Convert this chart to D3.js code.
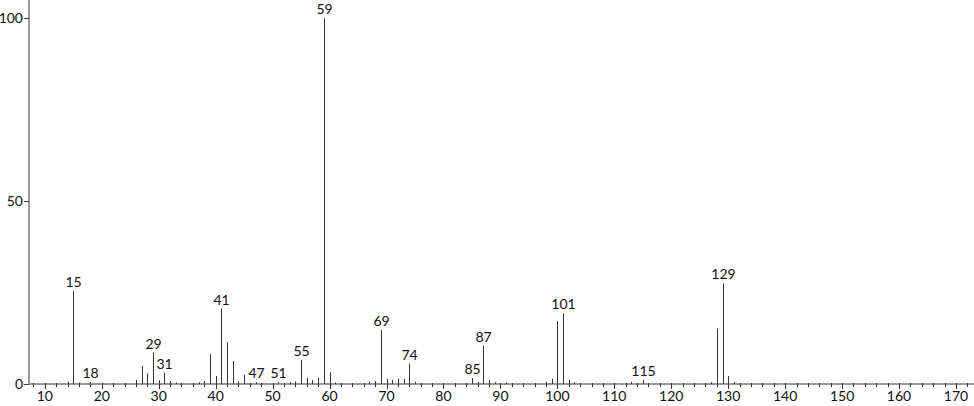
<!DOCTYPE html>
<html>
<head>
<meta charset="utf-8">
<script src="https://cdn.jsdelivr.net/npm/d3@7"></script>
<style>
  body { margin: 0; background: #fff; }
  text { font-family: "Lato", "DejaVu Sans", sans-serif; font-size: 14px; fill: #111; }
</style>
</head>
<body>
<div id="chart"></div>
<script>
// m/z and relative abundance
var mz =        [14, 15, 16, 18, 26, 27, 28, 29, 30, 31, 32, 33, 37, 38, 39, 40, 41, 42, 43, 44, 45, 47, 51, 53, 54, 55, 56, 57, 58, 59, 60, 61, 67, 68, 69, 70, 71, 72, 73, 74, 75, 85, 86, 87, 88, 89, 91, 98, 99, 100, 101, 102, 103, 113, 115, 127, 128, 129, 130, 131];
var abundance = [0.6, 25.4, 0.4, 0.5, 1.1, 4.9, 2.9, 8.6, 1.0, 3.1, 0.8, 0.4, 0.5, 0.8, 8.2, 2.2, 20.6, 11.4, 6.3, 0.8, 2.5, 0.5, 0.5, 0.5, 0.7, 6.6, 1.7, 1.1, 1.7, 100, 3.2, 0.4, 0.6, 0.8, 14.8, 1.4, 1.1, 1.5, 1.4, 5.6, 0.6, 1.6, 0.6, 10.5, 1.1, 0.5, 0.4, 0.6, 1.4, 17.2, 19.3, 1.1, 0.5, 0.6, 1.1, 0.5, 15.2, 27.5, 2.2, 0.6];
var labelled =  [15, 18, 29, 31, 41, 47, 51, 55, 59, 69, 74, 85, 87, 101, 115, 129];
var xTicks = [10, 20, 30, 40, 50, 60, 70, 80, 90, 100, 110, 120, 130, 140, 150, 160, 170];
var yTicks = [0, 50, 100];

var width = 974, height = 406;
var x0 = 29, y0 = 384;

var x = d3.scaleLinear().domain([10, 170]).range([44.8, 956]);
var y = d3.scaleLinear().domain([0, 100]).range([y0, 18.3]);

var data = mz.map(function(m, i) { return {mz: m, v: abundance[i]}; });

var svg = d3.select("#chart").append("svg")
  .attr("width", width)
  .attr("height", height);

// bars
svg.selectAll(".peak")
  .data(data)
.enter().append("line")
  .attr("class", "peak")
  .attr("x1", function(d) { return Math.round(x(d.mz)) + 0.5; })
  .attr("x2", function(d) { return Math.round(x(d.mz)) + 0.5; })
  .attr("y1", y0)
  .attr("y2", function(d) { return y(d.v); })
  .attr("stroke", "#333")
  .attr("stroke-width", 1);

// peak labels
svg.selectAll(".peakLabel")
  .data(data.filter(function(d) { return labelled.indexOf(d.mz) >= 0; }))
.enter().append("text")
  .attr("class", "peakLabel")
  .attr("x", function(d) { return Math.round(x(d.mz)) + 0.5; })
  .attr("y", function(d) { return y(d.v) - 4; })
  .attr("text-anchor", "middle")
  .text(function(d) { return d.mz; });

// x axis: line, minor ticks every 2, major every 10
var xAxis = svg.append("g").attr("transform", "translate(0," + y0 + ")");
xAxis.append("line")
  .attr("x1", x0).attr("x2", width)
  .attr("stroke", "#333");

var minor = d3.range(8, 174, 2).filter(function(v) { return v % 10 !== 0; });
xAxis.selectAll(".minor")
  .data(minor)
.enter().append("line")
  .attr("x1", function(d) { return Math.round(x(d)) + 0.5; })
  .attr("x2", function(d) { return Math.round(x(d)) + 0.5; })
  .attr("y1", -1).attr("y2", 3)
  .attr("stroke", "#333");

xAxis.selectAll(".major")
  .data(xTicks)
.enter().append("line")
  .attr("x1", function(d) { return Math.round(x(d)) + 0.5; })
  .attr("x2", function(d) { return Math.round(x(d)) + 0.5; })
  .attr("y1", -1).attr("y2", 5)
  .attr("stroke", "#333");

xAxis.selectAll(".xlabel")
  .data(xTicks)
.enter().append("text")
  .attr("x", function(d) { return x(d); })
  .attr("y", 17)
  .attr("text-anchor", "middle")
  .text(function(d) { return d; });

// y axis
var yAxis = svg.append("g");
yAxis.append("line")
  .attr("x1", x0).attr("x2", x0)
  .attr("y1", 0).attr("y2", y0)
  .attr("stroke", "#999")
  .attr("stroke-width", 2);

yAxis.selectAll(".ytick")
  .data(yTicks)
.enter().append("line")
  .attr("x1", 24).attr("x2", x0)
  .attr("y1", function(d) { return Math.round(y(d)) + 0.5; })
  .attr("y2", function(d) { return Math.round(y(d)) + 0.5; })
  .attr("stroke", "#333");

yAxis.selectAll(".ylabel")
  .data(yTicks)
.enter().append("text")
  .attr("x", 23)
  .attr("y", function(d) { return y(d) + 5; })
  .attr("text-anchor", "end")
  .text(function(d) { return d; });
</script>
</body>
</html>
